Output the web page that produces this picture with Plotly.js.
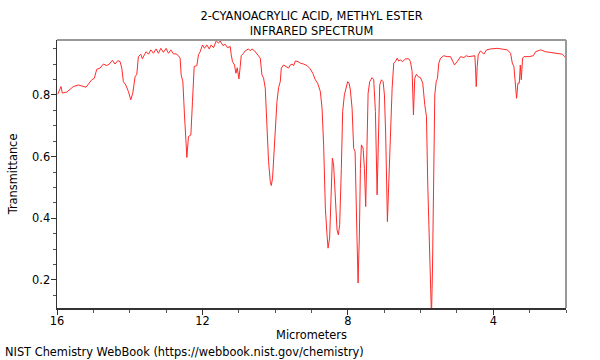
<!DOCTYPE html>
<html><head><meta charset="utf-8">
<script src="https://cdn.plot.ly/plotly-3.0.1.min.js"></script>
<style>html,body{margin:0;padding:0;background:#fff}#chart{width:600px;height:360px}</style>
</head><body><div id="chart"></div>
<script>
const titleText = "2-CYANOACRYLIC ACID, METHYL ESTER<br>INFRARED SPECTRUM";
const xTitle = "Micrometers";
const yTitle = "Transmittance";
const footer = "NIST Chemistry WebBook (https://webbook.nist.gov/chemistry)";

const wavelength = [15.981,15.890,15.854,15.733,15.551,15.413,15.320,15.201,15.044,14.973,14.907,14.816,14.725,14.631,14.560,14.477,14.403,14.328,14.265,14.218,14.174,14.108,14.036,13.970,13.915,13.852,13.805,13.761,13.695,13.651,13.596,13.549,13.486,13.419,13.348,13.274,13.210,13.144,13.073,12.998,12.935,12.869,12.797,12.723,12.659,12.613,12.585,12.538,12.494,12.456,12.428,12.384,12.318,12.274,12.227,12.153,12.109,12.062,11.998,11.943,11.877,11.814,11.759,11.695,11.621,11.558,11.511,11.436,11.373,11.310,11.235,11.208,11.172,11.117,11.079,11.043,10.996,10.960,10.933,10.869,10.822,10.776,10.732,10.685,10.638,10.566,10.500,10.456,10.409,10.363,10.318,10.272,10.225,10.181,10.134,10.106,10.071,10.016,9.950,9.905,9.859,9.831,9.768,9.702,9.630,9.583,9.536,9.492,9.445,9.371,9.308,9.217,9.123,9.032,8.964,8.895,8.831,8.757,8.710,8.666,8.619,8.573,8.545,8.501,8.462,8.426,8.391,8.344,8.297,8.261,8.225,8.179,8.143,8.096,8.041,8.005,7.967,7.931,7.884,7.840,7.801,7.774,7.746,7.719,7.683,7.655,7.628,7.581,7.545,7.509,7.471,7.443,7.399,7.333,7.289,7.242,7.195,7.160,7.124,7.077,7.030,6.994,6.959,6.912,6.865,6.829,6.782,6.738,6.692,6.645,6.601,6.554,6.491,6.416,6.325,6.279,6.232,6.196,6.160,6.113,6.066,6.003,5.940,5.885,5.838,5.802,5.763,5.728,5.700,5.672,5.645,5.609,5.570,5.535,5.499,5.452,5.361,5.268,5.177,5.130,5.067,4.992,4.901,4.811,4.745,4.673,4.579,4.508,4.488,4.469,4.442,4.414,4.351,4.260,4.185,4.075,3.891,3.753,3.615,3.524,3.477,3.433,3.395,3.359,3.323,3.285,3.257,3.230,3.194,3.158,3.020,2.899,2.836,2.698,2.560,2.376,2.194,2.101,2.037,2.001];

const transmittance = [0.802,0.827,0.806,0.809,0.827,0.832,0.829,0.825,0.849,0.854,0.883,0.887,0.900,0.895,0.900,0.912,0.900,0.911,0.908,0.887,0.843,0.832,0.811,0.784,0.806,0.859,0.867,0.924,0.932,0.917,0.930,0.940,0.932,0.946,0.935,0.949,0.935,0.951,0.938,0.951,0.935,0.946,0.933,0.933,0.927,0.919,0.865,0.843,0.735,0.638,0.597,0.665,0.670,0.778,0.892,0.895,0.930,0.940,0.962,0.951,0.962,0.949,0.962,0.953,0.975,0.968,0.975,0.960,0.964,0.953,0.957,0.930,0.908,0.897,0.870,0.888,0.852,0.892,0.927,0.935,0.943,0.946,0.949,0.943,0.949,0.943,0.932,0.924,0.919,0.865,0.854,0.822,0.692,0.584,0.519,0.506,0.530,0.638,0.778,0.824,0.843,0.887,0.897,0.892,0.887,0.897,0.900,0.895,0.910,0.908,0.903,0.900,0.895,0.884,0.870,0.849,0.838,0.811,0.757,0.638,0.433,0.346,0.303,0.336,0.476,0.595,0.573,0.454,0.362,0.346,0.379,0.562,0.746,0.800,0.832,0.843,0.838,0.816,0.757,0.627,0.616,0.508,0.325,0.190,0.346,0.562,0.638,0.627,0.562,0.438,0.616,0.806,0.843,0.856,0.849,0.746,0.476,0.616,0.832,0.849,0.843,0.800,0.670,0.389,0.562,0.724,0.822,0.903,0.908,0.919,0.910,0.913,0.908,0.917,0.917,0.908,0.876,0.735,0.854,0.867,0.859,0.856,0.838,0.768,0.730,0.508,0.292,0.130,0.080,0.239,0.562,0.800,0.843,0.854,0.903,0.919,0.927,0.924,0.924,0.913,0.897,0.908,0.924,0.921,0.927,0.924,0.927,0.927,0.887,0.827,0.892,0.930,0.943,0.932,0.946,0.949,0.951,0.949,0.946,0.935,0.903,0.892,0.843,0.789,0.838,0.838,0.897,0.849,0.919,0.924,0.924,0.927,0.940,0.946,0.940,0.937,0.935,0.932,0.924,0.919];

const xTickVals = [16, 12, 8, 4];
const yTickVals = [0.2, 0.4, 0.6, 0.8];

const font = {family: "DejaVu Sans, sans-serif", size: 11.4, color: "#000"};

const trace = {
  x: wavelength, y: transmittance, type: "scatter", mode: "lines",
  line: {color: "#ff2a2a", width: 1}, hoverinfo: "skip", cliponaxis: true
};

const layout = {
  width: 600, height: 360,
  margin: {l: 57, r: 34, t: 40, b: 52},
  paper_bgcolor: "#fff", plot_bgcolor: "#fff",
  font: font,
  showlegend: false,
  title: {text: titleText, font: {family: font.family, size: 11.4, color: "#000"},
          xref: "paper", x: 0.5, xanchor: "center", yref: "paper", y: 1.08, yanchor: "middle"},
  xaxis: {
    range: [16, 2], tickvals: xTickVals, ticktext: xTickVals.map(String),
    ticks: "outside", ticklen: 5, tickcolor: "#333", tickwidth: 1,
    ticklabelstandoff: -3,
    showline: true, linecolor: "#333", linewidth: 1.5,
    showgrid: false, zeroline: false,
    minor: {dtick: 1, tick0: 0, ticks: "outside", ticklen: 3, tickcolor: "#555", showgrid: false},
    title: {text: xTitle, font: font, standoff: 3},
    tickfont: font
  },
  yaxis: {
    range: [0.109, 0.978], tickvals: yTickVals, ticktext: yTickVals.map(v => v.toFixed(1)),
    ticks: "outside", ticklen: 5, tickcolor: "#333", tickwidth: 1,
    ticklabelstandoff: -2,
    showline: true, linecolor: "#333", linewidth: 1.5,
    showgrid: false, zeroline: false,
    minor: {dtick: 0.05, tick0: 0, ticks: "outside", ticklen: 3, tickcolor: "#555", showgrid: false},
    title: {text: yTitle, font: font, standoff: 12},
    tickfont: font
  },
  shapes: [
    {type: "line", xref: "paper", yref: "paper", x0: 0, x1: 1, y0: 1, y1: 1, line: {color: "#999", width: 2}},
    {type: "line", xref: "paper", yref: "paper", x0: 1, x1: 1, y0: 0, y1: 1, line: {color: "#999", width: 2}}
  ],
  annotations: [
    {text: footer, xref: "paper", yref: "paper", x: -0.106, y: -0.164, xanchor: "left", yanchor: "middle", showarrow: false, font: font}
  ]
};

Plotly.newPlot("chart", [trace], layout, {staticPlot: true, displayModeBar: false});
</script>
</body></html>
